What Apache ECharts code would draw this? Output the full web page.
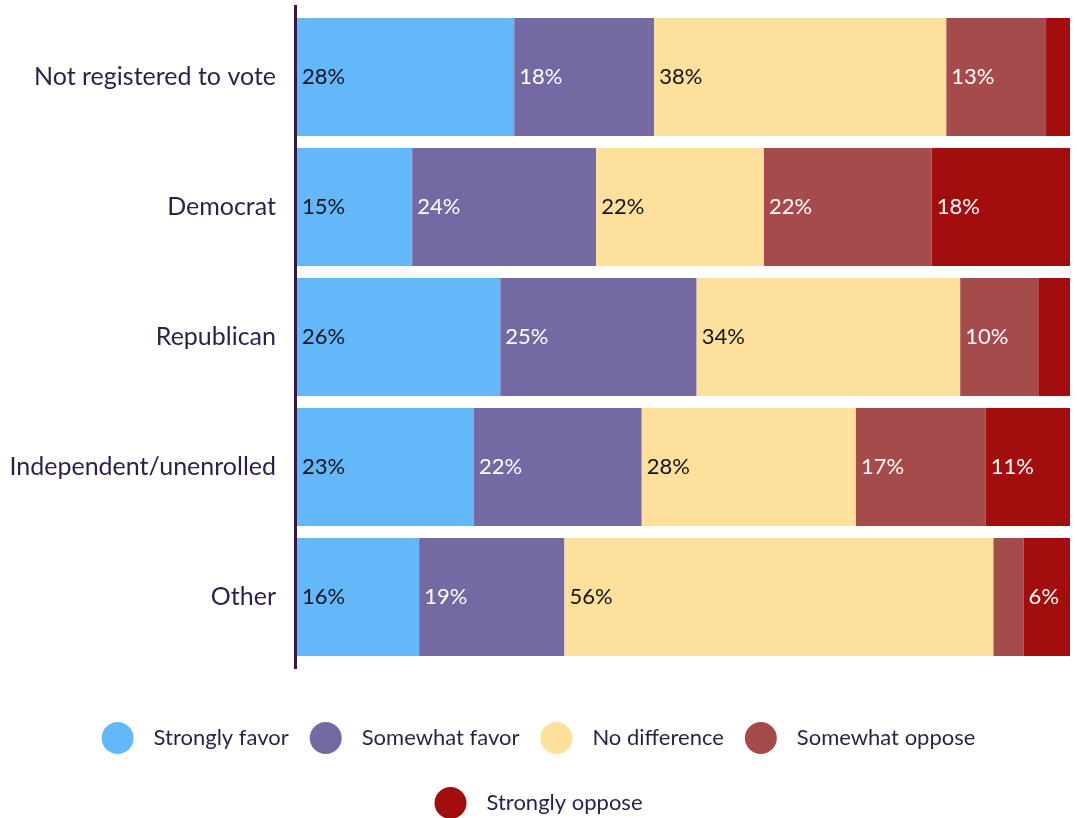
<!DOCTYPE html>
<html>
<head>
<meta charset="utf-8">
<script src="https://cdn.jsdelivr.net/npm/echarts@6/dist/echarts.min.js"></script>
<style>
  html, body { margin: 0; padding: 0; background: #ffffff; }
  #chart { width: 1077px; height: 818px; }
</style>
</head>
<body>
<div id="chart"></div>
<script>
// Party groups, top to bottom
const categories = ['Not registered to vote', 'Democrat', 'Republican', 'Independent/unenrolled', 'Other'];

// Share of each response (percent) per group
const stronglyFavor   = [28.1, 14.9, 26.3, 22.9, 15.8];
const somewhatFavor   = [18.1, 23.8, 25.4, 21.7, 18.8];
const noDifference    = [37.8, 21.7, 34.1, 27.7, 55.5];
const somewhatOppose  = [12.9, 21.7, 10.1, 16.8, 3.9];
const stronglyOppose  = [3.1, 17.9, 4.1, 10.9, 6.0];

const seriesNames = ['Strongly favor', 'Somewhat favor', 'No difference', 'Somewhat oppose', 'Strongly oppose'];
const seriesValues = [stronglyFavor, somewhatFavor, noDifference, somewhatOppose, stronglyOppose];
const seriesColors = ['#63b8f9', '#7469a3', '#fce09b', '#a64b4b', '#a20e0e'];
const labelColors  = ['#15121f', '#ffffff', '#15121f', '#ffffff', '#ffffff'];

const FONT = 'Lato, "Noto Sans", sans-serif';
const TEXT = '#2d1f47';
const GRID = { left: 297, right: 7, top: 12, height: 650 };

const chart = echarts.init(document.getElementById('chart'), null, { renderer: 'canvas' });

const series = seriesNames.map((name, i) => ({
  name: name,
  type: 'bar',
  stack: 'total',
  barWidth: 118,
  data: seriesValues[i],
  itemStyle: { color: seriesColors[i] },
  emphasis: { disabled: true },
  label: {
    show: true,
    position: 'insideLeft',
    distance: 5,
    color: labelColors[i],
    fontFamily: FONT,
    fontSize: 22,
    formatter: p => (p.value >= 5 ? Math.round(p.value) + '%' : '')
  }
}));

const legendBase = {
  left: 'center',
  icon: 'circle',
  itemWidth: 32,
  itemHeight: 32,
  itemGap: 21,
  selectedMode: false,
  textStyle: { color: TEXT, fontFamily: FONT, fontSize: 22, padding: [0, 0, 0, 15] }
};

chart.setOption({
  animation: false,
  textStyle: { fontFamily: FONT },
  grid: GRID,
  xAxis: {
    type: 'value',
    min: 0,
    max: 100,
    show: false
  },
  yAxis: {
    type: 'category',
    inverse: true,
    data: categories,
    axisLine: { show: false },
    axisTick: { show: false },
    axisLabel: {
      margin: 21,
      color: TEXT,
      fontFamily: FONT,
      fontSize: 25
    }
  },
  legend: [
    Object.assign({}, legendBase, { data: seriesNames.slice(0, 4), top: 717 }),
    Object.assign({}, legendBase, { data: seriesNames.slice(4), top: 782 })
  ],
  // vertical baseline along the category axis, slightly overhanging the plot
  graphic: [{
    type: 'line',
    z: 100,
    shape: {
      x1: GRID.left - 1.5, y1: GRID.top - 7,
      x2: GRID.left - 1.5, y2: GRID.top + GRID.height + 7
    },
    style: { stroke: '#2f1a45', lineWidth: 3 }
  }],
  series: series
});
</script>
</body>
</html>
